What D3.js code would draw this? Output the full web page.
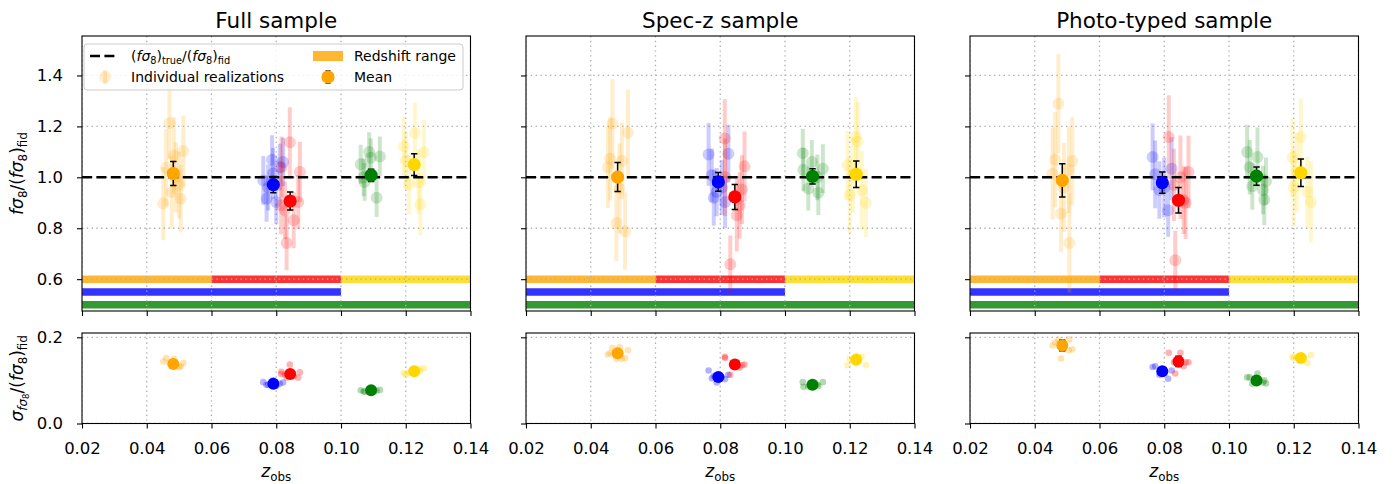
<!DOCTYPE html>
<html>
<head>
<meta charset="utf-8">
<script src="https://cdn.jsdelivr.net/npm/d3@7"></script>
<style>
  body { margin: 0; background: #fff; }
  text { font-family: "DejaVu Sans", sans-serif; }
</style>
</head>
<body>
<div id="chart"></div>
<script>
(function(d3) {
  'use strict';

  // axis ranges and ticks
  var zDomain = [0.02, 0.14];
  var fDomain = [0.475, 1.555];
  var sDomain = [0, 0.21];
  var zTicks = [0.02, 0.04, 0.06, 0.08, 0.10, 0.12, 0.14];
  var fTicks = [0.6, 0.8, 1.0, 1.2, 1.4];
  var sTicks = [0.0, 0.2];
  var panelTitles = ['Full sample', 'Spec-z sample', 'Photo-typed sample'];
  var fidRatio = 1.0;

  // redshift bins: colour, z range, level of the range bar
  var binColors = ['orange', 'blue', 'red', 'green', 'gold'];
  var binLow = [0.02, 0.02, 0.06, 0.02, 0.10];
  var binHigh = [0.06, 0.10, 0.10, 0.14, 0.14];
  var bandLevel = [0.6, 0.55, 0.6, 0.5, 0.6];

  // means, one per bin (orange, blue, red, green, gold)
  var fullMeanZ = [0.0482, 0.0791, 0.0843, 0.1093, 0.1226];
  var fullMeanF = [1.015, 0.971, 0.907, 1.008, 1.050];
  var fullMeanFErr = [0.047, 0.032, 0.035, 0.024, 0.043];
  var fullMeanS = [0.138, 0.092, 0.115, 0.077, 0.121];
  var fullMeanSErr = [0.004, 0.003, 0.004, 0.003, 0.004];

  var specMeanZ = [0.0483, 0.0794, 0.0845, 0.1085, 0.1220];
  var specMeanF = [1.001, 0.982, 0.923, 1.004, 1.012];
  var specMeanFErr = [0.057, 0.037, 0.049, 0.030, 0.052];
  var specMeanS = [0.163, 0.108, 0.137, 0.090, 0.148];
  var specMeanSErr = [0.006, 0.004, 0.005, 0.003, 0.005];

  var photoMeanZ = [0.0485, 0.0794, 0.0844, 0.1085, 0.1222];
  var photoMeanF = [0.988, 0.979, 0.910, 1.005, 1.018];
  var photoMeanFErr = [0.065, 0.042, 0.050, 0.036, 0.054];
  var photoMeanS = [0.181, 0.121, 0.144, 0.100, 0.152];
  var photoMeanSErr = [0.012, 0.005, 0.012, 0.004, 0.005];

  // individual realizations: [z, f/ffid, sigma]
  var fullReal = [
    [[0.0470,1.213,0.141],[0.0484,1.086,0.150],[0.0513,1.103,0.140],[0.0460,1.038,0.152],[0.0500,0.969,0.131],
     [0.0477,0.942,0.143],[0.0451,0.897,0.144],[0.0505,0.916,0.133],[0.0490,1.000,0.138]],
    [[0.0787,1.069,0.096],[0.0821,1.060,0.095],[0.0760,0.988,0.096],[0.0770,0.916,0.090],[0.0800,0.903,0.087],
     [0.0790,1.015,0.100],[0.0811,1.040,0.092],[0.0775,0.960,0.090]],
    [[0.0842,1.138,0.137],[0.0873,1.021,0.119],[0.0816,1.040,0.120],[0.0827,0.871,0.113],[0.0868,0.903,0.106],
     [0.0854,0.831,0.110],[0.0832,0.742,0.107],[0.0815,0.890,0.115]],
    [[0.1087,1.099,0.078],[0.1120,1.082,0.078],[0.1061,1.051,0.077],[0.1092,1.077,0.076],[0.1073,0.982,0.074],
     [0.1110,0.920,0.076],[0.1070,1.000,0.074]],
    [[0.1228,1.174,0.120],[0.1194,1.122,0.117],[0.1256,1.098,0.128],[0.1200,1.067,0.113],[0.1240,0.982,0.127],
     [0.1210,0.973,0.118],[0.1245,0.894,0.122]]
  ];
  var specReal = [
    [[0.0467,1.210,0.175],[0.0515,1.175,0.170],[0.0460,1.073,0.163],[0.0496,1.064,0.150],[0.0453,1.040,0.160],
     [0.0479,0.821,0.150],[0.0506,0.788,0.152],[0.0489,0.956,0.177]],
    [[0.0764,1.090,0.123],[0.0825,1.093,0.113],[0.0774,1.008,0.105],[0.0789,0.942,0.095],[0.0815,0.903,0.103],
     [0.0780,0.920,0.110],[0.0805,0.960,0.108]],
    [[0.0814,1.152,0.155],[0.0875,1.043,0.137],[0.0867,0.952,0.135],[0.0851,0.851,0.142],[0.0831,0.659,0.113],
     [0.0815,1.000,0.152],[0.0860,0.890,0.130]],
    [[0.1055,1.095,0.096],[0.1083,1.060,0.087],[0.1117,1.034,0.096],[0.1057,1.030,0.085],[0.1072,0.956,0.086],
     [0.1103,0.939,0.087],[0.1100,1.000,0.090]],
    [[0.1219,1.158,0.157],[0.1225,1.140,0.155],[0.1193,1.047,0.135],[0.1237,0.949,0.155],[0.1250,0.900,0.135],
     [0.1200,0.930,0.150],[0.1210,1.010,0.148]]
  ];
  var photoReal = [
    [[0.0473,1.289,0.194],[0.0463,1.069,0.188],[0.0516,1.064,0.172],[0.0455,1.015,0.181],[0.0505,1.030,0.170],
     [0.0481,0.858,0.151],[0.0507,0.742,0.195],[0.0490,0.960,0.175]],
    [[0.0764,1.080,0.131],[0.0772,1.012,0.133],[0.0823,1.034,0.123],[0.0812,0.871,0.104],[0.0785,0.950,0.113],
     [0.0800,0.960,0.118]],
    [[0.0814,1.158,0.164],[0.0875,1.021,0.142],[0.0860,0.910,0.133],[0.0866,0.900,0.142],[0.0834,0.674,0.116],
     [0.0850,1.000,0.164],[0.0830,0.970,0.142]],
    [[0.1056,1.099,0.107],[0.1088,1.080,0.116],[0.1064,1.040,0.107],[0.1114,0.985,0.093],[0.1072,0.965,0.092],
     [0.1105,0.950,0.095],[0.1109,0.912,0.100]],
    [[0.1222,1.158,0.152],[0.1196,1.077,0.155],[0.1242,0.942,0.140],[0.1253,0.903,0.159],[0.1200,0.960,0.152],
     [0.1210,1.020,0.155]]
  ];

  var samples = [
    {mz: fullMeanZ, mf: fullMeanF, mfe: fullMeanFErr, ms: fullMeanS, mse: fullMeanSErr, real: fullReal},
    {mz: specMeanZ, mf: specMeanF, mfe: specMeanFErr, ms: specMeanS, mse: specMeanSErr, real: specReal},
    {mz: photoMeanZ, mf: photoMeanF, mfe: photoMeanFErr, ms: photoMeanS, mse: photoMeanSErr, real: photoReal}
  ];

  // layout
  var lefts = [82, 526, 970];
  var W = 388.5;
  var topY0 = 36, topY1 = 311;
  var botY0 = 333, botY1 = 423.5;
  var tickFont = 16.5;
  var gridColor = '#b0b0b0';

  var svg = d3.select('#chart').append('svg')
    .attr('width', 1395)
    .attr('height', 484);

  // text with sub/superscripts; parts = [text, italic, level]
  function mathText(text, parts, size) {
    var offs = [0, 0.24, 0.36], scl = [1, 0.7, 0.5];
    var cur = 0;
    parts.forEach(function(p) {
      var lvl = p[2] || 0;
      var dy = offs[lvl] * size - cur;
      cur = offs[lvl] * size;
      text.append('tspan')
        .attr('dy', dy)
        .style('font-size', (size * scl[lvl]) + 'px')
        .style('font-style', p[1] ? 'italic' : 'normal')
        .text(p[0]);
    });
    return text;
  }

  function errbar(g, x, y0, y1, cap) {
    g.append('line').attr('x1', x).attr('x2', x).attr('y1', y0).attr('y2', y1)
      .attr('stroke', 'black').attr('stroke-width', 1.5);
    [y0, y1].forEach(function(yy) {
      g.append('line').attr('x1', x - cap).attr('x2', x + cap).attr('y1', yy).attr('y2', yy)
        .attr('stroke', 'black').attr('stroke-width', 1.5);
    });
  }

  function styleAxis(ax) {
    ax.select('.domain').remove();
    ax.selectAll('.tick line').attr('stroke', 'black').attr('stroke-width', 1.1);
    ax.selectAll('.tick text').style('font-size', tickFont + 'px').attr('fill', 'black')
      .style('font-family', '"DejaVu Sans", sans-serif');
  }

  samples.forEach(function(s, i) {
    var g = svg.append('g').attr('transform', 'translate(' + lefts[i] + ',0)');

    var x = d3.scaleLinear().domain(zDomain).range([0, W]);
    var yF = d3.scaleLinear().domain(fDomain).range([topY1, topY0]);
    var yS = d3.scaleLinear().domain(sDomain).range([botY1, botY0]);

    // clip paths
    var clipTop = 'clipT' + i, clipBot = 'clipB' + i;
    g.append('clipPath').attr('id', clipTop).append('rect')
      .attr('x', 0).attr('y', topY0).attr('width', W).attr('height', topY1 - topY0);
    g.append('clipPath').attr('id', clipBot).append('rect')
      .attr('x', 0).attr('y', botY0).attr('width', W).attr('height', botY1 - botY0);

    // ---------- top panel ----------
    var top = g.append('g').attr('clip-path', 'url(#' + clipTop + ')');

    // redshift ranges
    binColors.forEach(function(c, b) {
      top.append('line')
        .attr('x1', x(binLow[b])).attr('x2', x(binHigh[b]))
        .attr('y1', yF(bandLevel[b])).attr('y2', yF(bandLevel[b]))
        .attr('stroke', c).attr('stroke-opacity', 0.8).attr('stroke-width', 7.5);
    });

    // grid
    top.selectAll('.vgrid').data(zTicks).enter().append('line')
      .attr('x1', function(d) { return x(d); }).attr('x2', function(d) { return x(d); })
      .attr('y1', topY0).attr('y2', topY1)
      .attr('stroke', gridColor).attr('stroke-width', 1.3).attr('stroke-dasharray', '1.4,3.4');
    top.selectAll('.hgrid').data(fTicks).enter().append('line')
      .attr('x1', 0).attr('x2', W)
      .attr('y1', function(d) { return yF(d); }).attr('y2', function(d) { return yF(d); })
      .attr('stroke', gridColor).attr('stroke-width', 1.3).attr('stroke-dasharray', '1.4,3.4');

    // individual realizations
    s.real.forEach(function(pts, b) {
      var c = binColors[b];
      pts.forEach(function(p) {
        top.append('line')
          .attr('x1', x(p[0])).attr('x2', x(p[0]))
          .attr('y1', yF(p[1] - p[2])).attr('y2', yF(p[1] + p[2]))
          .attr('stroke', c).attr('stroke-opacity', 0.2).attr('stroke-width', 4);
        top.append('circle')
          .attr('cx', x(p[0])).attr('cy', yF(p[1])).attr('r', 6)
          .attr('fill', c).attr('fill-opacity', 0.2);
      });
    });

    // fiducial line
    top.append('line')
      .attr('x1', 0).attr('x2', W)
      .attr('y1', yF(fidRatio)).attr('y2', yF(fidRatio))
      .attr('stroke', 'black').attr('stroke-width', 2.6).attr('stroke-dasharray', '10,4.4');

    // means
    binColors.forEach(function(c, b) {
      errbar(top, x(s.mz[b]), yF(s.mf[b] - s.mfe[b]), yF(s.mf[b] + s.mfe[b]), 3.2);
      top.append('circle')
        .attr('cx', x(s.mz[b])).attr('cy', yF(s.mf[b])).attr('r', 6.6)
        .attr('fill', c);
    });

    g.append('rect').attr('x', 0).attr('y', topY0).attr('width', W).attr('height', topY1 - topY0)
      .attr('fill', 'none').attr('stroke', 'black').attr('stroke-width', 1.1);

    var ayT = g.append('g').call(d3.axisLeft(yF).tickValues(fTicks).tickSize(5).tickPadding(14)
      .tickFormat(i === 0 ? d3.format('.1f') : function() { return ''; }));
    styleAxis(ayT);
    var axT = g.append('g').attr('transform', 'translate(0,' + topY1 + ')')
      .call(d3.axisBottom(x).tickValues(zTicks).tickSize(5).tickFormat(function() { return ''; }));
    styleAxis(axT);

    // ---------- bottom panel ----------
    var bot = g.append('g').attr('clip-path', 'url(#' + clipBot + ')');
    bot.selectAll('.vgrid').data(zTicks).enter().append('line')
      .attr('x1', function(d) { return x(d); }).attr('x2', function(d) { return x(d); })
      .attr('y1', botY0).attr('y2', botY1)
      .attr('stroke', gridColor).attr('stroke-width', 1.3).attr('stroke-dasharray', '1.4,3.4');
    bot.selectAll('.hgrid').data(sTicks).enter().append('line')
      .attr('x1', 0).attr('x2', W)
      .attr('y1', function(d) { return yS(d); }).attr('y2', function(d) { return yS(d); })
      .attr('stroke', gridColor).attr('stroke-width', 1.3).attr('stroke-dasharray', '1.4,3.4');

    s.real.forEach(function(pts, b) {
      pts.forEach(function(p) {
        bot.append('circle')
          .attr('cx', x(p[0])).attr('cy', yS(p[2])).attr('r', 3.3)
          .attr('fill', binColors[b]).attr('fill-opacity', 0.3);
      });
    });
    binColors.forEach(function(c, b) {
      errbar(bot, x(s.mz[b]), yS(s.ms[b] - s.mse[b]), yS(s.ms[b] + s.mse[b]), 3.2);
      bot.append('circle')
        .attr('cx', x(s.mz[b])).attr('cy', yS(s.ms[b])).attr('r', 6)
        .attr('fill', c);
    });

    g.append('rect').attr('x', 0).attr('y', botY0).attr('width', W).attr('height', botY1 - botY0)
      .attr('fill', 'none').attr('stroke', 'black').attr('stroke-width', 1.1);

    var ayB = g.append('g').call(d3.axisLeft(yS).tickValues(sTicks).tickSize(5).tickPadding(14)
      .tickFormat(i === 0 ? d3.format('.1f') : function() { return ''; }));
    styleAxis(ayB);
    var axB = g.append('g').attr('transform', 'translate(0,' + botY1 + ')')
      .call(d3.axisBottom(x).tickValues(zTicks).tickSize(5).tickPadding(14).tickFormat(d3.format('.2f')));
    styleAxis(axB);

    // title and x label
    g.append('text').attr('x', W / 2).attr('y', 28).attr('text-anchor', 'middle')
      .style('font-size', '21.5px').text(panelTitles[i]);
    mathText(g.append('text').attr('x', W / 2).attr('y', 477).attr('text-anchor', 'middle'),
      [['z', true], ['obs', false, 1]], 17);

    // legend on the first panel
    if (i === 0) {
      var lg = g.append('g');
      lg.append('rect').attr('x', 2).attr('y', 44).attr('width', 379).attr('height', 46).attr('rx', 3)
        .attr('fill', 'white').attr('fill-opacity', 0.8).attr('stroke', '#cccccc').attr('stroke-width', 1);
      lg.append('line').attr('x1', 8).attr('x2', 34).attr('y1', 56).attr('y2', 56)
        .attr('stroke', 'black').attr('stroke-width', 2.6).attr('stroke-dasharray', '10,4.4');
      mathText(lg.append('text').attr('x', 49).attr('y', 61),
        [['(', false], ['f\u03c3', true], ['8', false, 1], [')', false], ['true', false, 1], ['/(', false],
         ['f\u03c3', true], ['8', false, 1], [')', false], ['fid', false, 1]], 14);
      lg.append('line').attr('x1', 23).attr('x2', 23).attr('y1', 70).attr('y2', 84)
        .attr('stroke', 'orange').attr('stroke-opacity', 0.2).attr('stroke-width', 4);
      lg.append('circle').attr('cx', 23).attr('cy', 77).attr('r', 6)
        .attr('fill', 'orange').attr('fill-opacity', 0.2);
      lg.append('text').attr('x', 49).attr('y', 82).style('font-size', '14px').text('Individual realizations');
      lg.append('rect').attr('x', 231).attr('y', 51).attr('width', 30).attr('height', 10)
        .attr('fill', 'orange').attr('fill-opacity', 0.8);
      lg.append('text').attr('x', 272).attr('y', 61).style('font-size', '14px').text('Redshift range');
      errbar(lg, 246, 71, 83, 2.5);
      lg.append('circle').attr('cx', 246).attr('cy', 77).attr('r', 6.6).attr('fill', 'orange');
      lg.append('text').attr('x', 272).attr('y', 82).style('font-size', '14px').text('Mean');
    }
  });

  // y labels
  mathText(svg.append('text').attr('text-anchor', 'middle')
    .attr('transform', 'translate(23,' + ((topY0 + topY1) / 2) + ') rotate(-90)'),
    [['f\u03c3', true], ['8', false, 1], ['/(', false], ['f\u03c3', true], ['8', false, 1], [')', false], ['fid', false, 1]], 17);
  mathText(svg.append('text').attr('text-anchor', 'middle')
    .attr('transform', 'translate(23,' + ((botY0 + botY1) / 2) + ') rotate(-90)'),
    [['\u03c3', true], ['f\u03c3', true, 1], ['8', false, 2], ['/(', false, 0], ['f\u03c3', true], ['8', false, 1], [')', false], ['fid', false, 1]], 17);
})(window.d3);
</script>
</body>
</html>
